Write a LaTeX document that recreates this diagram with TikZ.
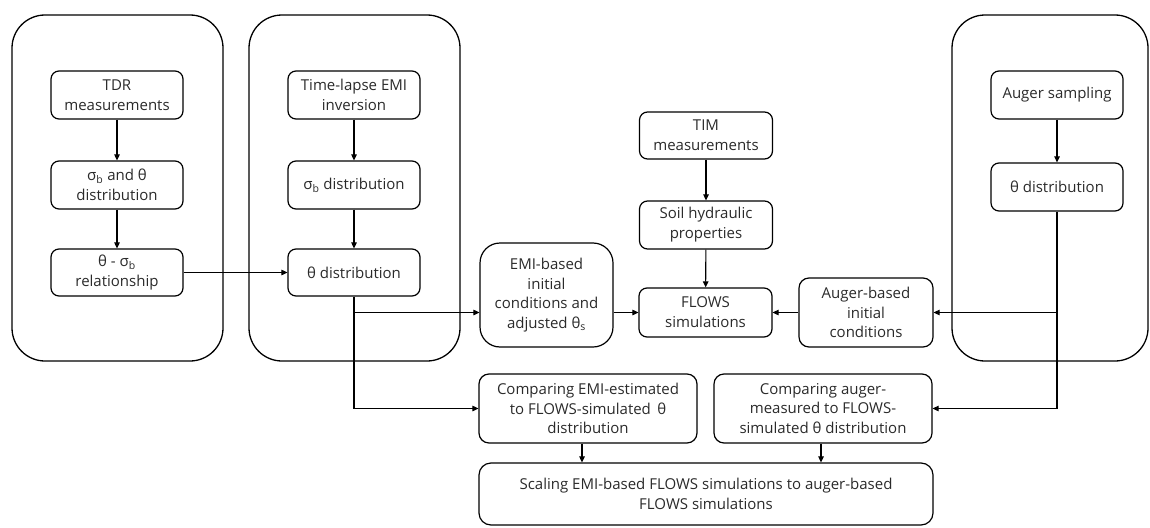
\documentclass[tikz,border=0pt]{standalone}
\usepackage{fontspec}
\setmainfont{Open Sans}
\usetikzlibrary{arrows.meta,calc}
\definecolor{txt}{HTML}{2A2A2A}
\tikzset{
  container/.style={draw=black, line width=1.3pt, rounded corners=33pt},
  stepbox/.style={draw=black, line width=1.2pt, rounded corners=8pt, align=center,
    text=txt, font=\fontsize{15}{19.8}\selectfont, inner sep=1pt},
  conn/.style={draw=black, line width=1.1pt},
  arr/.style={conn, -{Triangle[length=6pt,width=5.5pt]}}
}
\newcommand{\sub}[1]{\textsubscript{#1}}
\begin{document}
\begin{tikzpicture}[x=1pt,y=-1pt]
\useasboundingbox (0,0) rectangle (1150,527);
% containers
\draw[container] (12,15) rectangle (223,361);
\draw[container] (249,15) rectangle (460,361);
\draw[container] (952,15) rectangle (1148,361);
% nodes
\node[stepbox, minimum width=132pt, minimum height=48pt] (tdr) at (117,95) {TDR\\measurements};
\node[stepbox, minimum width=132pt, minimum height=48pt] (sbt) at (117,185) {σ\sub{b} and θ\\distribution};
\node[stepbox, minimum width=132pt, minimum height=47pt] (rel) at (117,272.5) {θ - σ\sub{b}\\relationship};
\node[stepbox, minimum width=132pt, minimum height=48pt] (emi) at (354,95) {Time-lapse EMI\\inversion};
\node[stepbox, minimum width=132pt, minimum height=48pt] (sbd) at (354,185) {σ\sub{b} distribution};
\node[stepbox, minimum width=132pt, minimum height=47pt] (tde) at (354,272.5) {θ distribution};
\node[stepbox, minimum width=133pt, minimum height=47pt] (tim) at (706,135.5) {TIM\\measurements};
\node[stepbox, minimum width=133pt, minimum height=48pt] (shp) at (706,225) {Soil hydraulic\\properties};
\node[stepbox, minimum width=133pt, minimum height=49pt] (flows) at (705.5,312.5) {FLOWS\\simulations};
\node[stepbox, rounded corners=20pt, minimum width=133pt, minimum height=104pt] (emiic) at (546.5,295) {EMI-based\\initial\\conditions and\\adjusted θ\sub{s}};
\node[stepbox, rounded corners=10pt, minimum width=134pt, minimum height=69pt] (augic) at (866,312.5) {Auger-based\\initial\\conditions};
\node[stepbox, minimum width=132pt, minimum height=48pt] (aug) at (1057,95) {Auger sampling};
\node[stepbox, minimum width=132pt, minimum height=48pt] (tda) at (1057,187) {θ distribution};
\node[stepbox, rounded corners=10pt, minimum width=218pt, minimum height=69pt] (cmpE) at (588,408.5) {Comparing EMI-estimated\\to FLOWS-simulated \,θ\\distribution};
\node[stepbox, rounded corners=10pt, minimum width=218pt, minimum height=69pt] (cmpA) at (823,408.5) {Comparing auger-\\measured to FLOWS-\\simulated θ distribution};
\node[stepbox, rounded corners=12pt, minimum width=454pt, minimum height=62pt] (scale) at (706,494) {Scaling EMI-based FLOWS simulations to auger-based\\FLOWS simulations};
% connectors
\draw[arr] (tdr) -- (sbt);
\draw[arr] (sbt) -- (rel);
\draw[arr] (emi) -- (sbd);
\draw[arr] (sbd) -- (tde);
\draw[arr] (aug) -- (tda);
\draw[arr] (tim) -- (shp);
\draw[arr] (shp) -- (flows);
\draw[arr] (rel) -- (tde);
\coordinate (jE) at (tde.south |- flows.center);
\coordinate (jA) at (tda.south |- flows.center);
\draw[conn] (tde.south) -- (tde.south |- cmpE.west);
\draw[arr] (tde.south |- cmpE.west) -- (cmpE.west);
\draw[arr] (jE) -- (jE -| emiic.west);
\draw[arr] (emiic.east |- flows.center) -- (flows.west);
\draw[arr] (augic.west) -- (flows.east);
\draw[conn] (tda.south) -- (tda.south |- cmpA.east);
\draw[arr] (tda.south |- cmpA.east) -- (cmpA.east);
\draw[arr] (jA) -- (augic.east);
\draw[arr] ([xshift=-6pt]cmpE.south) -- ([xshift=-6pt]cmpE.south |- scale.north);
\draw[arr] ([xshift=-2pt]cmpA.south) -- ([xshift=-2pt]cmpA.south |- scale.north);
\end{tikzpicture}
\end{document}
